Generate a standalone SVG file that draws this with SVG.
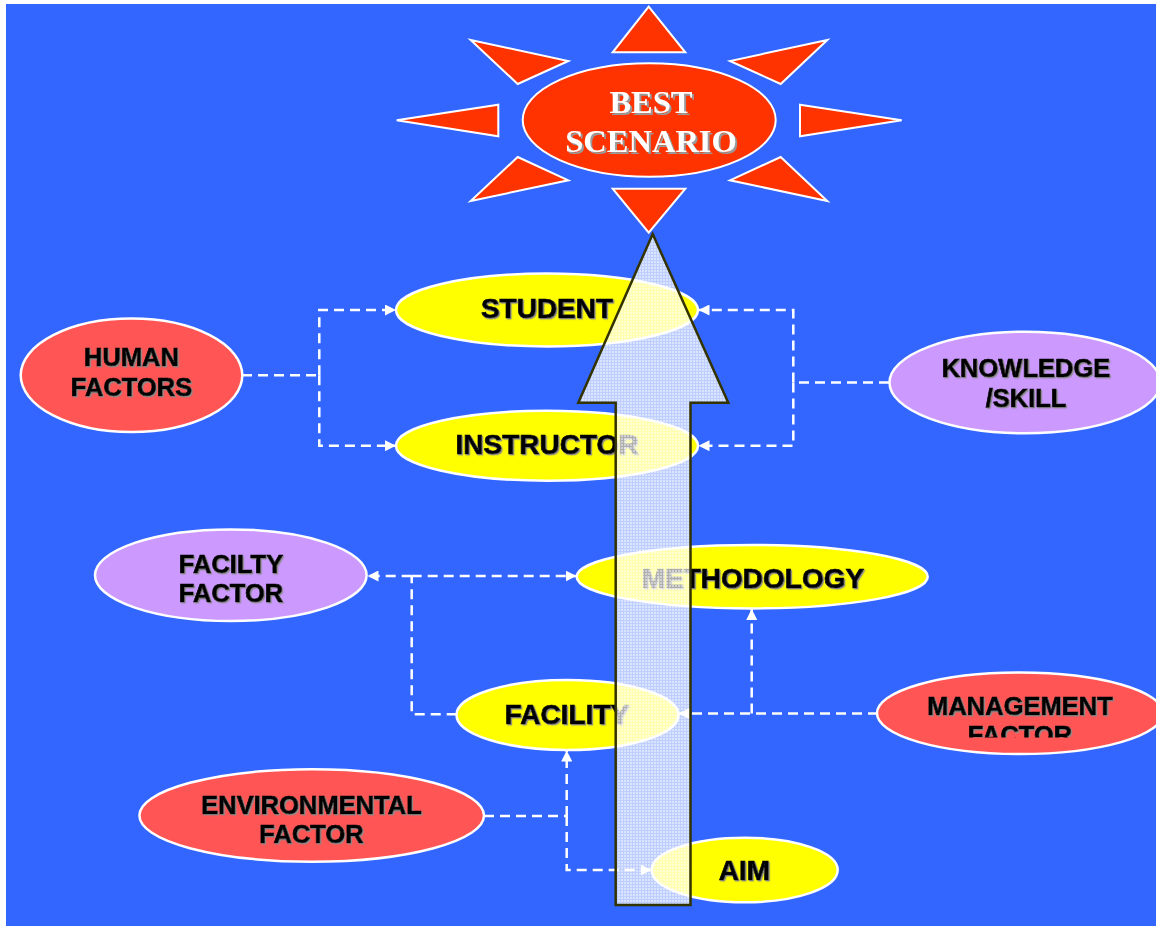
<svg xmlns="http://www.w3.org/2000/svg" width="1156" height="926" viewBox="0 0 1156 926">
  <style>
    .conn { fill: none; stroke: #ffffff; stroke-width: 2.5; stroke-dasharray: 10 6; }
    .node { stroke: #ffffff; stroke-width: 2.5; }
    .yellow { fill: #ffff00; }
    .red { fill: #ff5555; }
    .purple { fill: #cc99ff; }
    .lbl { font-family: "Liberation Sans", Arial, sans-serif; font-weight: bold; fill: #000000; stroke: #000000; stroke-width: 0.7; text-anchor: middle; filter: url(#shadow); }
    .big { font-size: 28px; }
    .small { font-size: 25.5px; }
    .ray { fill: #ff3300; stroke: #ffffff; stroke-width: 2; stroke-linejoin: miter; }
    .sunlbl { font-family: "Liberation Serif", "Times New Roman", serif; font-weight: bold; font-size: 32.5px; fill: #ffffff; text-anchor: middle; filter: url(#shadow2); }
  </style>
  <defs>
    <filter id="shadow" x="-10%" y="-20%" width="130%" height="160%">
      <feDropShadow dx="1.2" dy="1.2" stdDeviation="0" flood-color="#8a8a8a" flood-opacity="1"/>
    </filter>
    <filter id="shadow2" x="-10%" y="-20%" width="130%" height="160%">
      <feDropShadow dx="2" dy="2" stdDeviation="0" flood-color="#999999" flood-opacity="1"/>
    </filter>
    <marker id="ah" viewBox="0 0 10 10" refX="10" refY="5" markerWidth="11" markerHeight="11" markerUnits="userSpaceOnUse" orient="auto">
      <path d="M0,0 L10,5 L0,10 z" fill="#ffffff"/>
    </marker>
    <pattern id="grid" width="3" height="3" patternUnits="userSpaceOnUse">
      <rect width="3" height="3" fill="#ffffff" fill-opacity="0.68"/>
      <rect width="2" height="2" fill="#ffffff" fill-opacity="0.45"/>
    </pattern>
    <clipPath id="mgmtclip">
      <rect x="860" y="680" width="300" height="57.5"/>
    </clipPath>
  </defs>

  <rect x="6" y="4" width="1150" height="922" fill="#3366ff"/>

  <g id="connectors">
    <path class="conn" d="M242,375.3 H319.3"/>
    <path class="conn" d="M319.3,375.3 V310 H396" marker-end="url(#ah)"/>
    <path class="conn" d="M319.3,375.3 V445.7 H396" marker-end="url(#ah)"/>
    <path class="conn" d="M889,382.5 H793.3"/>
    <path class="conn" d="M793.3,382.5 V310 H698.5" marker-end="url(#ah)"/>
    <path class="conn" d="M793.3,382.5 V445.7 H698.5" marker-end="url(#ah)"/>
    <path class="conn" d="M456.7,714.3 H411.7 V576"/>
    <path class="conn" d="M411.7,576 H367.5" marker-end="url(#ah)"/>
    <path class="conn" d="M411.7,576 H576.5" marker-end="url(#ah)"/>
    <path class="conn" d="M878,713.5 H678.5" marker-end="url(#ah)"/>
    <path class="conn" d="M751.7,713.5 V609" marker-end="url(#ah)"/>
    <path class="conn" d="M484,816 H566.7"/>
    <path class="conn" d="M566.7,816 V750.5" marker-end="url(#ah)"/>
    <path class="conn" d="M566.7,816 V870 H651.5" marker-end="url(#ah)"/>
  </g>

  <g id="student">
    <ellipse class="node yellow" cx="547" cy="310" rx="151" ry="36.5"/>
    <text class="lbl big" x="547" y="318">STUDENT</text>
  </g>
  <g id="instructor">
    <ellipse class="node yellow" cx="547" cy="445.7" rx="151" ry="35"/>
    <text class="lbl big" x="547" y="454">INSTRUCTOR</text>
  </g>
  <g id="human-factors">
    <ellipse class="node red" cx="131.5" cy="375.3" rx="110.8" ry="56.7"/>
    <text class="lbl small" x="131.5" y="366"><tspan x="131.5">HUMAN</tspan><tspan x="131.5" dy="30">FACTORS</tspan></text>
  </g>
  <g id="knowledge-skill">
    <ellipse class="node purple" cx="1025" cy="382.5" rx="135.5" ry="50.8"/>
    <text class="lbl small" x="1026" y="377.3"><tspan x="1026">KNOWLEDGE</tspan><tspan x="1026" dy="30">/SKILL</tspan></text>
  </g>
  <g id="facilty-factor">
    <ellipse class="node purple" cx="230.8" cy="575.2" rx="135.8" ry="45.8"/>
    <text class="lbl small" x="231" y="573.3"><tspan x="231">FACILTY</tspan><tspan x="231" dy="29">FACTOR</tspan></text>
  </g>
  <g id="methodology">
    <ellipse class="node yellow" cx="752.2" cy="576.7" rx="175.5" ry="31.7"/>
    <text class="lbl big" x="753" y="588">METHODOLOGY</text>
  </g>
  <g id="facility">
    <ellipse class="node yellow" cx="567.5" cy="715" rx="111" ry="35"/>
    <text class="lbl big" x="567" y="724">FACILITY</text>
  </g>
  <g id="management-factor">
    <ellipse class="node red" cx="1020" cy="713.3" rx="143" ry="40.7"/>
    <text class="lbl small" x="1020" y="715" clip-path="url(#mgmtclip)"><tspan x="1020">MANAGEMENT</tspan><tspan x="1020" dy="29">FACTOR</tspan></text>
  </g>
  <g id="environmental-factor">
    <ellipse class="node red" cx="311.7" cy="815.5" rx="172.3" ry="46.2"/>
    <text class="lbl small" x="311.5" y="814.3"><tspan x="311.5">ENVIRONMENTAL</tspan><tspan x="311.5" dy="29">FACTOR</tspan></text>
  </g>
  <g id="aim">
    <ellipse class="node yellow" cx="744.7" cy="870" rx="93" ry="32.3"/>
    <text class="lbl big" x="744.5" y="880">AIM</text>
  </g>

  <g id="progress-arrow">
    <path d="M652.7,234 L728.3,402.7 L690.5,402.7 L690.5,905 L615.7,905 L615.7,402.7 L578.3,402.7 Z" fill="url(#grid)" stroke="#333300" stroke-width="2.5" stroke-linejoin="miter"/>
  </g>

  <g id="best-scenario">
    <polygon class="ray" points="648.7,6.7 685.3,52.3 612.7,52.3"/>
    <polygon class="ray" points="612.7,188.7 685.3,188.7 648.7,232.7"/>
    <polygon class="ray" points="396.7,120.3 498.3,104.7 498.3,136.3"/>
    <polygon class="ray" points="800,104.7 901.7,120.3 800,136.3"/>
    <polygon class="ray" points="470.7,40 568.3,61 517.7,84"/>
    <polygon class="ray" points="827.3,40 780.7,84 730,61"/>
    <polygon class="ray" points="517.7,157 568.3,180.3 470.7,201"/>
    <polygon class="ray" points="780.7,157 827.3,201 730,180.3"/>
    <ellipse cx="649.2" cy="120" rx="126.5" ry="56.7" fill="#ff3300" stroke="#ffffff" stroke-width="2"/>
    <text class="sunlbl" x="651" y="113"><tspan x="651">BEST</tspan><tspan x="651" dy="39">SCENARIO</tspan></text>
  </g>
</svg>
